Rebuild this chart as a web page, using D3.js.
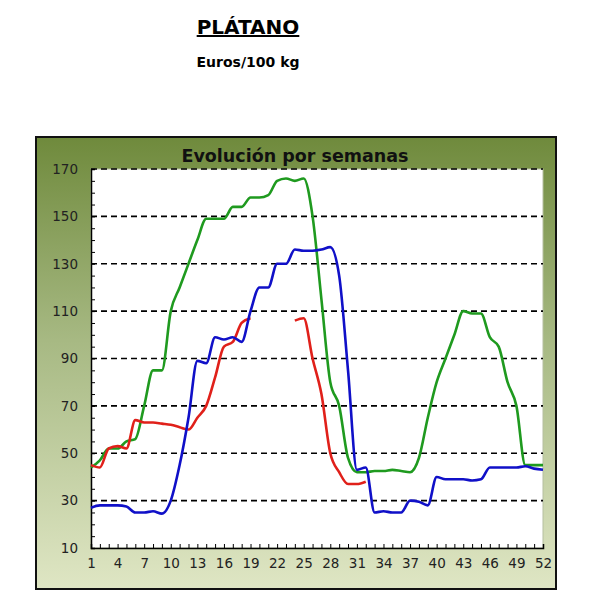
<!DOCTYPE html>
<html><head><meta charset="utf-8">
<script src="https://cdn.jsdelivr.net/npm/d3@7"></script>
<style>body{margin:0;background:#fff}</style></head>
<body><svg id="c" width="592" height="605"></svg>
<script>
const weeks = d3.range(1, 53);
const green = [44,47,52,52,55,56,70,85,85,110,120,130,140,149,149,149,154,154,158,158,159,165,166,165,166,150,115,80,70,48,42,42,42.5,42.5,43,42.5,42,48,65,80,90,100,110,109,109,99,95,80,70,45,45,45];
const red = [45,44,52,53,52,64,63,63,62.5,62,61,60,65,70,82,95,97,105,107,null,null,null,null,106,107,90,75,50,42,37,37,38];
const blue = [27,28,28,28,27.5,25,25,25.5,24.5,30,45,65,89,88,99,98,99,97,110,120,120,130,130,136,135.5,135.5,136,137,125,85,43,44,25,25.5,25,25,30,29.5,28,40,39,39,39,38.5,39,44,44,44,44,44.5,43.5,43];
const yTicks = [10,30,50,70,90,110,130,150,170];
const xTicks = d3.range(1, 53, 3);
const F = "DejaVu Sans, Verdana, sans-serif";

const svg = d3.select("#c");
const defs = svg.append("defs");
const g1 = defs.append("linearGradient").attr("id","bg").attr("x1",0).attr("y1",0).attr("x2",0).attr("y2",1);
g1.append("stop").attr("offset","0%").attr("stop-color","#6f8a3c");
g1.append("stop").attr("offset","45%").attr("stop-color","#a7b983");
g1.append("stop").attr("offset","100%").attr("stop-color","#dfe6c4");

svg.append("text").attr("x",248).attr("y",34).attr("text-anchor","middle")
  .attr("font-family",F).attr("font-weight","bold").attr("font-size",20)
  .attr("text-decoration","underline").text("PLÁTANO");
svg.append("text").attr("x",248).attr("y",67).attr("text-anchor","middle")
  .attr("font-family",F).attr("font-weight","bold").attr("font-size",14)
  .text("Euros/100 kg");

svg.append("rect").attr("x",36).attr("y",137).attr("width",520).attr("height",452)
  .attr("fill","url(#bg)").attr("stroke","#111").attr("stroke-width",2);
svg.append("text").attr("x",295).attr("y",162).attr("text-anchor","middle")
  .attr("font-family",F).attr("font-weight","bold").attr("font-size",17.5)
  .attr("fill","#111").text("Evolución por semanas");

const L=91,R=543,T=169,B=548;
const x = d3.scaleLinear().domain([1,52]).range([L,R]);
const y = d3.scaleLinear().domain([10,170]).range([B,T]);

svg.append("rect").attr("x",L).attr("y",T).attr("width",R-L).attr("height",B-T).attr("fill","#fff")
  .attr("stroke","#b5bfa0").attr("stroke-width",1);

svg.append("g").selectAll("line").data(yTicks.slice(1)).join("line")
  .attr("x1",L).attr("x2",R).attr("y1",d=>y(d)).attr("y2",d=>y(d))
  .attr("stroke","#000").attr("stroke-width",1.6).attr("stroke-dasharray","6,4");

const ya = svg.append("g").attr("transform",`translate(${L},0)`)
  .call(d3.axisLeft(y).tickValues(d3.range(10,171,5)).tickSize(-4).tickFormat(d=>yTicks.includes(d)?d:""));
ya.select(".domain").attr("stroke","#000").attr("stroke-width",1.5);
ya.selectAll("text").attr("x",-13).attr("font-family",F).attr("font-size",13.5).attr("fill","#222");

const xa = svg.append("g").attr("transform",`translate(0,${B})`)
  .call(d3.axisBottom(x).tickValues(weeks).tickSize(-4).tickFormat(d=>xTicks.includes(d)?d:""));
xa.select(".domain").attr("stroke","#000").attr("stroke-width",1.5);
xa.selectAll("text").attr("y",10).attr("font-family",F).attr("font-size",13.5).attr("fill","#222");

const line = d3.line().defined(d=>d[1]!=null).x(d=>x(d[0])).y(d=>y(d[1])).curve(d3.curveMonotoneX);
[[green,"#1f9a1f"],[red,"#e0201a"],[blue,"#1010c8"]].forEach(([s,c])=>{
  svg.append("path").datum(s.map((v,i)=>[weeks[i],v])).attr("d",line)
    .attr("fill","none").attr("stroke",c).attr("stroke-width",2.6);
});
</script></body></html>
